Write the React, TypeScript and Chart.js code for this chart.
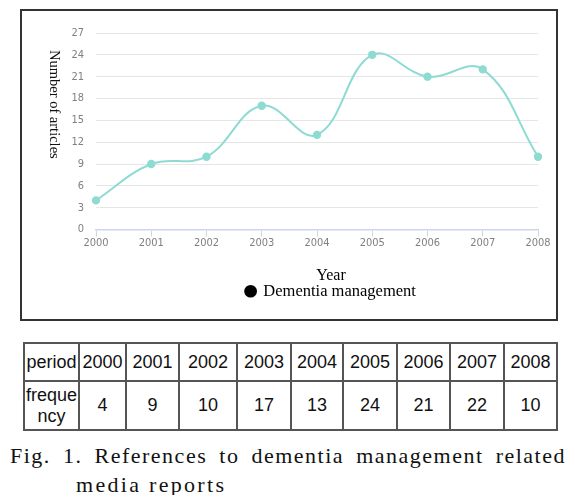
import React, { useEffect, useRef } from 'react';
import { Chart, registerables } from 'chart.js';

Chart.register(...registerables);

// ---- data ----
const years = ['2000', '2001', '2002', '2003', '2004', '2005', '2006', '2007', '2008'];
const frequency = [4, 9, 10, 17, 13, 24, 21, 22, 10];
const seriesLabel = 'Dementia management';
const xAxisTitle = 'Year';
const yAxisTitle = 'Number of articles';
const yMin = 0;
const yMax = 27;
const yStep = 3;
const periodLabel = 'period';
const frequencyLabelLines = ['freque', 'ncy'];
const captionLine1 = 'Fig. 1. References to dementia management related';
const captionLine2 = 'media reports';

// ---- styles ----
const LINE_COLOR = '#8ddbd2';
const SERIF = '"Liberation Serif", "Times New Roman", serif';
const TICK_FONT = '"Liberation Sans Narrow", "DejaVu Sans Condensed", "Roboto Condensed", "Liberation Sans", sans-serif';
const TABLE_FONT = '"Liberation Sans", Arial, sans-serif';
const colWidths = [55, 47, 53, 58, 54, 52, 54, 53, 54, 53];
const TITLE_SHIFT = 14;

const axisTitlesPlugin = {
  id: 'axisTitles',
  afterLayout(chart: any) {
    // nudge the legend to sit under the shifted x title
    if (chart.legend) {
      chart.legend.left += TITLE_SHIFT;
      chart.legend.right += TITLE_SHIFT;
    }
  },
  afterDraw(chart: any) {
    const { ctx, chartArea } = chart;
    ctx.save();
    ctx.translate(32, chartArea.top + 17);
    ctx.rotate(Math.PI / 2);
    ctx.font = `14.5px ${SERIF}`;
    ctx.fillStyle = '#111';
    ctx.textAlign = 'left';
    ctx.textBaseline = 'middle';
    ctx.fillText(yAxisTitle, 0, 0);
    ctx.restore();

    ctx.save();
    ctx.font = `16px ${SERIF}`;
    ctx.fillStyle = '#000';
    ctx.textAlign = 'center';
    ctx.textBaseline = 'middle';
    ctx.fillText(xAxisTitle, (chartArea.left + chartArea.right) / 2 + TITLE_SHIFT, chartArea.bottom + 46);
    ctx.restore();
  },
};

function LineChart() {
  const ref = useRef<HTMLCanvasElement | null>(null);
  useEffect(() => {
    if (!ref.current) return;
    const chart = new Chart(ref.current, {
      type: 'line',
      data: {
        labels: years,
        datasets: [
          {
            label: seriesLabel,
            data: frequency,
            borderColor: LINE_COLOR,
            backgroundColor: LINE_COLOR,
            pointBackgroundColor: LINE_COLOR,
            pointBorderColor: LINE_COLOR,
            pointRadius: 3.2,
            borderWidth: 2,
            tension: 0.4,
            fill: false,
            clip: false,
          } as any,
        ],
      },
      options: {
        animation: false,
        responsive: false,
        maintainAspectRatio: false,
        layout: { padding: { left: 0, top: 22, right: 18, bottom: 9.5 } },
        plugins: {
          legend: {
            position: 'bottom',
            fullSize: false,
            labels: {
              usePointStyle: true,
              pointStyle: 'circle',
              boxWidth: 9,
              boxHeight: 9,
              padding: 0,
              color: '#000',
              font: { family: SERIF, size: 16.5 },
              generateLabels: (c: any) =>
                (Chart.defaults.plugins.legend.labels.generateLabels as any)(c).map((l: any) => ({
                  ...l,
                  fillStyle: '#000',
                  strokeStyle: '#000',
                  lineWidth: 0,
                })),
            },
          },
          tooltip: { enabled: false },
        },
        scales: {
          x: {
            offset: false,
            grid: { drawOnChartArea: false, drawTicks: true, tickLength: 7, color: '#ccd6eb' },
            border: { color: '#ccd6eb', width: 1.5 },
            ticks: {
              padding: 0,
              maxRotation: 0,
              autoSkip: false,
              color: '#808080',
              font: { family: TICK_FONT, size: 11 },
            },
            title: { display: false, text: xAxisTitle },
            afterFit: (s: any) => {
              s.height = 53.5;
            },
          },
          y: {
            min: yMin,
            max: yMax,
            ticks: {
              stepSize: yStep,
              padding: 12,
              color: '#808080',
              font: { family: TICK_FONT, size: 11 },
            },
            grid: { color: '#e6e6e6', drawTicks: false },
            border: { display: false },
            afterFit: (s: any) => {
              s.width = 74;
            },
          },
        },
      } as any,
      plugins: [axisTitlesPlugin],
    });
    return () => chart.destroy();
  }, []);
  return <canvas ref={ref} width={534} height={308} style={{ display: 'block' }} />;
}

export default function App() {
  const cell: React.CSSProperties = {
    border: '2px solid #555',
    padding: '0 1px',
    textAlign: 'center',
    verticalAlign: 'middle',
    fontFamily: TABLE_FONT,
    fontSize: 18,
    color: '#111',
    lineHeight: '21px',
  };
  const captionStyle: React.CSSProperties = {
    position: 'absolute',
    fontFamily: SERIF,
    fontSize: 22,
    lineHeight: '29px',
    color: '#111',
  };
  return (
    <div style={{ position: 'relative', width: 587, height: 503, margin: -8, background: '#fff', overflow: 'hidden' }}>
      <div
        style={{
          position: 'absolute',
          left: 20,
          top: 9,
          width: 538,
          height: 312,
          boxSizing: 'border-box',
          border: '2px solid #333',
        }}
      >
        <LineChart />
      </div>
      <table
        style={{
          position: 'absolute',
          left: 23,
          top: 342,
          borderCollapse: 'collapse',
          tableLayout: 'fixed',
          width: colWidths.reduce((a, b) => a + b, 0),
          border: '2px solid #333',
        }}
      >
        <colgroup>
          {colWidths.map((w, i) => (
            <col key={i} style={{ width: w }} />
          ))}
        </colgroup>
        <tbody>
          <tr style={{ height: 38 }}>
            <td style={cell}>{periodLabel}</td>
            {years.map((y) => (
              <td key={y} style={cell}>
                {y}
              </td>
            ))}
          </tr>
          <tr style={{ height: 49 }}>
            <td style={cell}>
              {frequencyLabelLines[0]}
              <br />
              {frequencyLabelLines[1]}
            </td>
            {frequency.map((v, i) => (
              <td key={i} style={cell}>
                {v}
              </td>
            ))}
          </tr>
        </tbody>
      </table>
      <div
        style={{
          ...captionStyle,
          left: 10,
          top: 441,
          width: 556,
          letterSpacing: 1.5,
          textAlign: 'justify',
          textAlignLast: 'justify',
        }}
      >
        {captionLine1}
      </div>
      <div style={{ ...captionStyle, left: 76, top: 470, letterSpacing: 2.3, whiteSpace: 'nowrap' }}>
        {captionLine2}
      </div>
    </div>
  );
}
